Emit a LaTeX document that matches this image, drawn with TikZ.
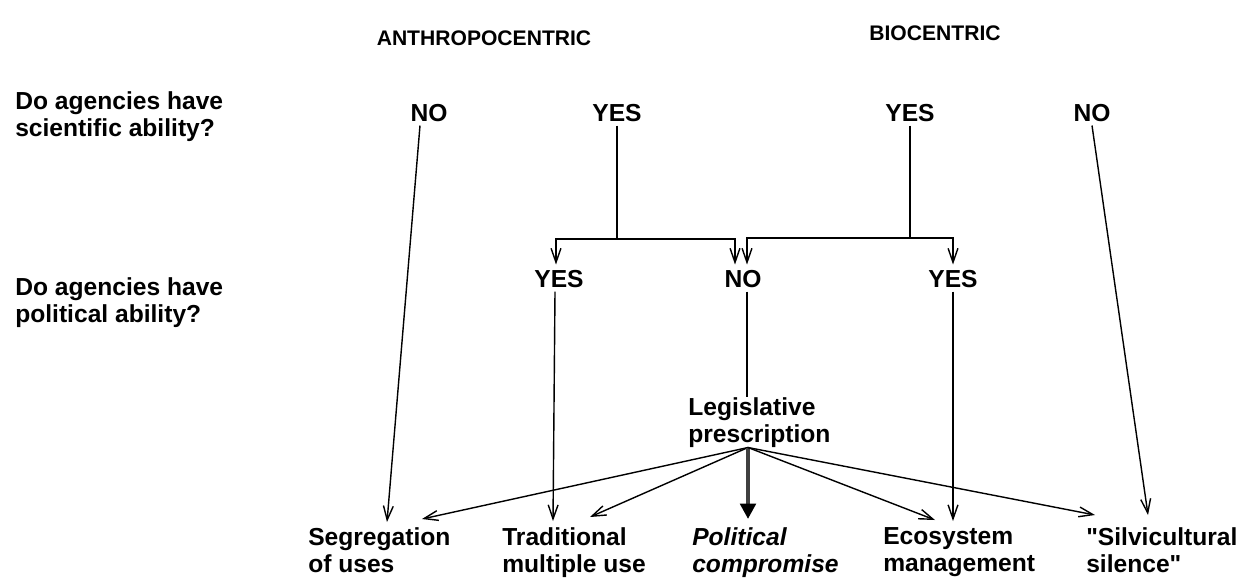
\documentclass[tikz,border=0pt]{standalone}
\usepackage{fontspec}
\setmainfont{Liberation Sans}
\usetikzlibrary{arrows.meta,calc}
\begin{document}
\begin{tikzpicture}[x=0.025cm,y=-0.025cm,
  every node/.style={font=\fontsize{17.5}{19.2}\selectfont\bfseries,inner sep=0pt},
  titre/.style={font=\fontsize{15}{18}\selectfont\bfseries},
  rep/.style={inner sep=2.5pt},
  bloc/.style={align=left,anchor=north west},
  fl/.style={line width=1pt,-{Straight Barb[length=10pt,width=7pt]}},
  tr/.style={line width=1pt},
  grosse/.style={line width=3pt,black!75,-{Triangle[length=11pt,width=11pt,color=black]}}]

\useasboundingbox (0,0) rectangle (1240,581);

\node[titre] (anthro) at (484,38) {ANTHROPOCENTRIC};
\node[titre] (bio) at (935,33) {BIOCENTRIC};

\node[bloc] (qsci) at (15,91) {Do agencies have\\scientific ability?};
\node[bloc] (qpol) at (15,277) {Do agencies have\\political ability?};

\node[rep] (no1) at (429,113) {NO};
\node[rep] (yes1) at (617,113) {YES};
\node[rep] (yes2) at (910,113) {YES};
\node[rep] (no2) at (1092,113) {NO};

\node[rep] (yes3) at (559,279) {YES};
\node[rep] (no3) at (743,279) {NO};
\node[rep] (yes4) at (953,279) {YES};

\node[bloc] (legis) at (688,397) {Legislative\\prescription};

\node[bloc] (segr) at (308,527) {Segregation\\of uses};
\node[bloc] (trad) at (502,527) {Traditional\\multiple use};
\node[bloc,font=\fontsize{17.5}{19.2}\selectfont\bfseries\itshape] (polit) at (692,527) {Political\\compromise};
\node[bloc] (eco) at (883,527) {Ecosystem\\management};
\node[bloc] (silv) at (1086,527) {\textquotedbl Silvicultural\\silence\textquotedbl};

\draw[tr] (yes1.south) -- (yes1.south |- 0,239) coordinate (jg);
\draw[fl] (jg) -| ($(yes3.north)+(-3,-2)$);
\draw[fl] (jg) -| ($(no3.north)+(-8,-2)$);
\draw[tr] (yes2.south) -- (yes2.south |- 0,238) coordinate (jd);
\draw[fl] (jd) -| ($(no3.north)+(4,-2)$);
\draw[fl] (jd) -| ($(yes4.north)+(0,-2)$);

\draw[fl] ($(no1.south)+(-9,0)$) -- ($(segr.north west)+(79,-5)$);
\draw[fl] ($(yes3.south)+(-4,0)$) -- ($(trad.north west)+(51,-6)$);
\draw[fl] (yes4.south) -- ($(eco.north west)+(70,-6)$);
\draw[fl] (no2.south) -- ($(silv.north west)+(62,-12)$);

\draw[tr] ($(no3.south)+(4,0)$) coordinate (n) -- (n |- legis.north);

\coordinate (fan) at ($(legis.south west)+(60,0)$);
\draw[fl] (fan) -- ($(segr.north west)+(114,-8)$);
\draw[fl] (fan) -- ($(trad.north west)+(88,-10)$);
\draw[grosse] (fan) -- ($(polit.north west)+(56,-8)$);
\draw[fl] (fan) -- ($(eco.north west)+(52,-7)$);
\draw[fl] (fan) -- ($(silv.north west)+(9,-12)$);
\end{tikzpicture}
\end{document}
